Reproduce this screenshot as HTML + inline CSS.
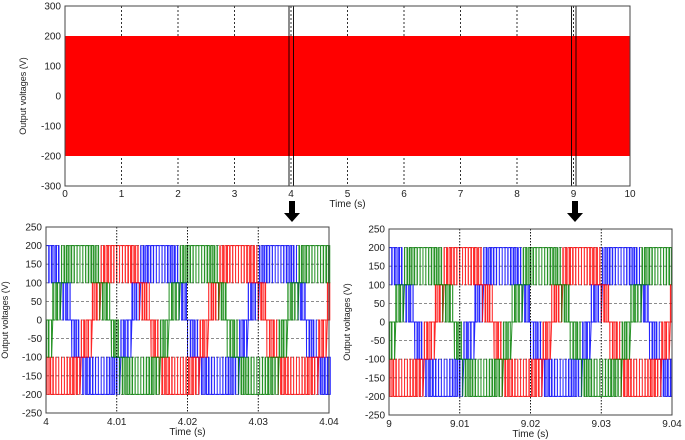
<!DOCTYPE html>
<html><head><meta charset="utf-8">
<style>
html,body{margin:0;padding:0;background:#fff;}
svg{display:block;font-family:"Liberation Sans",Arial,sans-serif;}
text{fill:#222;font-size:10px;}
</style></head>
<body>
<svg id="chart" width="685" height="440" viewBox="0 0 685 440">
  <g id="top"></g>
  <g id="left"></g>
  <g id="right"></g>
  <path d="M289,201 h6 v12 h5 l-8,9 l-8,-9 h5 z" fill="#000"/>
  <path d="M572,201 h6 v12 h5 l-8,9 l-8,-9 h5 z" fill="#000"/>
</svg>
<script>
// ---- data ----
const topXTicks = [0,1,2,3,4,5,6,7,8,9,10];
const topYTicks = [300,200,100,0,-100,-200,-300];
const envelopeMax = [200];
const envelopeMin = [-200];
const zoomWindows = [4, 9];
const zoomXTicksLeft = [4,4.01,4.02,4.03,4.04];
const zoomXTicksRight = [9,9.01,9.02,9.03,9.04];
const zoomYTicks = [250,200,150,100,50,0,-50,-100,-150,-200,-250];
const phaseNames = ['blue','red','green'];
const phaseColors = ['#0000ff','#ff0000','#008000'];
const phaseShiftDeg = [0,-240,-120];
const fundamentalPeriod = [0.016667];
const firstPeak = [0.0160];
const refAmplitude = [200];
const carrierPeriod = [0.0004];
const levelStep = [100];

const NS='http://www.w3.org/2000/svg';
function el(tag,attrs,parent){const e=document.createElementNS(NS,tag);for(const k in attrs)e.setAttribute(k,attrs[k]);parent.appendChild(e);return e;}
function lin(d0,d1,r0,r1){return v=>r0+(v-d0)/(d1-d0)*(r1-r0);}

// ---- top chart ----
(function(){
  const g=document.getElementById('top');
  const L=65,R=630,T=6,B=186;
  const x=lin(0,10,L,R), y=lin(300,-300,T,B);
  el('rect',{x:L,y:T,width:R-L,height:B-T,fill:'#fff'},g);
  topXTicks.slice(1,-1).forEach(v=>{const l=el('line',{x1:x(v),x2:x(v),y1:T,y2:B,stroke:'#000','stroke-width':0.8,'stroke-dasharray':'2,2'},g);
    
    });
  const band=el('rect',{x:L,y:y(envelopeMax[0]),width:R-L,height:y(envelopeMin[0])-y(envelopeMax[0]),fill:'#ff0000'},g);
  
  
  zoomWindows.forEach(v=>{const r=el('rect',{x:x(v)-2,y:T,width:4.5,height:B-T,fill:'none',stroke:'#000','stroke-width':0.9},g);
    
    });
  el('rect',{x:L,y:T,width:R-L,height:B-T,fill:'none',stroke:'#444','stroke-width':1},g);
  topXTicks.forEach(v=>{const t=el('text',{x:x(v),y:B+11,'text-anchor':'middle'},g);t.textContent=v;
    
    });
  topYTicks.forEach(v=>{const t=el('text',{x:L-4,y:y(v)+3.5,'text-anchor':'end'},g);t.textContent=v;
    
    });
  const xt=el('text',{x:(L+R)/2,y:B+21,'text-anchor':'middle'},g);xt.textContent='Time (s)';
  
  
  const yt=el('text',{x:0,y:0,'text-anchor':'middle',transform:`translate(26,${(T+B)/2}) rotate(-90)`,style:'font-size:9px'},g);yt.textContent='Output voltages (V)';
  
  
})();

// ---- zoom charts ----
function refVal(i,t){
  const w=2*Math.PI/fundamentalPeriod[0];
  let v=refAmplitude[0]*Math.cos(w*(t-firstPeak[0]) + phaseShiftDeg[i]*Math.PI/180);
  return Math.max(-199.9,Math.min(199.9,v));
}
function zoomChart(id,ticks,L,R,T,B,titleX){
  const g=document.getElementById(id);
  const x=lin(ticks[0],ticks[ticks.length-1],L,R), y=lin(250,-250,T,B);
  el('rect',{x:L,y:T,width:R-L,height:B-T,fill:'#fff'},g);
  zoomYTicks.slice(1,-1).forEach(v=>{const l=el('line',{x1:L,x2:R,y1:y(v),y2:y(v),stroke:'#666','stroke-width':0.8,'stroke-dasharray':'3,2'},g);
    
    });
  phaseNames.forEach((nm,i)=>{
    let d='';const Tc=carrierPeriod[0],S=levelStep[0];
    const span=ticks[ticks.length-1]-ticks[0];
    for(let k=0;k*Tc<span;k++){
      const tc=k*Tc+Tc/2;
      const r=refVal(i,tc);
      const lo=Math.floor(r/S)*S, duty=(r-lo)/S;
      const a=k*Tc, b=a+Tc*(1-duty)/2, c=a+Tc*(1+duty)/2, e=Math.min(a+Tc,span);
      const X=v=>x(ticks[0]+v).toFixed(2);
      if(!d) d+=`M${X(a)},${y(lo).toFixed(2)}`;
      d+=`L${X(b)},${y(lo).toFixed(2)}L${X(b)},${y(lo+S).toFixed(2)}L${X(Math.min(c,span))},${y(lo+S).toFixed(2)}L${X(Math.min(c,span))},${y(lo).toFixed(2)}L${X(e)},${y(lo).toFixed(2)}`;
    }
    const p=el('path',{d:d,fill:'none',stroke:phaseColors[i],'stroke-width':1,'stroke-opacity':0.85},g);
    
    
  });
  ticks.slice(1,-1).forEach(v=>{const l=el('line',{x1:x(v),x2:x(v),y1:T,y2:B,stroke:'#000','stroke-width':0.9,'stroke-dasharray':'1.5,1.5'},g);
    
    });
  el('rect',{x:L,y:T,width:R-L,height:B-T,fill:'none',stroke:'#444','stroke-width':1},g);
  ticks.forEach(v=>{const t=el('text',{x:x(v),y:B+12,'text-anchor':'middle'},g);t.textContent=v;
    
    });
  zoomYTicks.forEach(v=>{const t=el('text',{x:L-4,y:y(v)+3.5,'text-anchor':'end'},g);t.textContent=v;
    
    });
  const xt=el('text',{x:(L+R)/2,y:B+22,'text-anchor':'middle'},g);xt.textContent='Time (s)';
  
  
  const yt=el('text',{x:0,y:0,'text-anchor':'middle',transform:`translate(${titleX},${(T+B)/2}) rotate(-90)`,style:'font-size:9px'},g);yt.textContent='Output voltages (V)';
  
  
}
zoomChart('left',zoomXTicksLeft,46,329,227,413,8);
zoomChart('right',zoomXTicksRight,389,672,229,415,350);
</script>
</body></html>
